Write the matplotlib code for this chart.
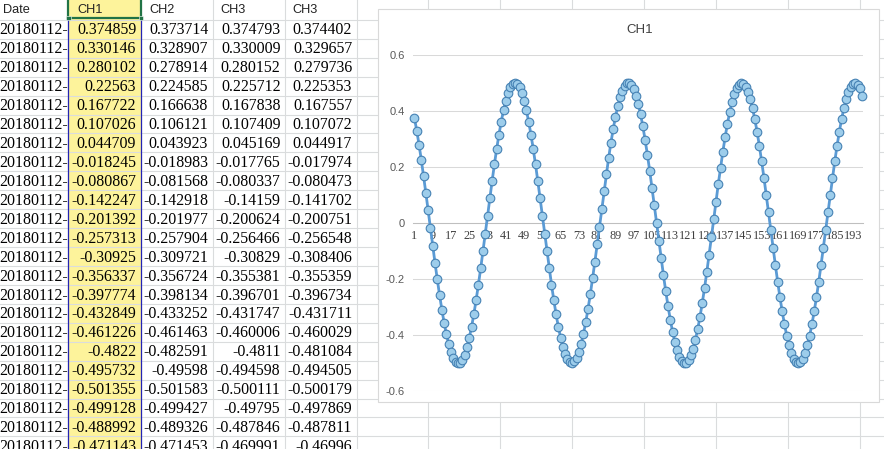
import matplotlib
matplotlib.use("Agg")
import matplotlib.pyplot as plt
from matplotlib.patches import Rectangle

W, H = 884, 449

# sheet contents
headers = ["Date", "CH1", "CH2", "CH3", "CH3"]
dates = ["20180112-"] * 23
ch1 = [0.374859, 0.330146, 0.280102, 0.22563, 0.167722, 0.107026, 0.044709,
       -0.018245, -0.080867, -0.142247, -0.201392, -0.257313, -0.30925,
       -0.356337, -0.397774, -0.432849, -0.461226, -0.4822, -0.495732,
       -0.501355, -0.499128, -0.488992, -0.471143]
ch2 = [0.373714, 0.328907, 0.278914, 0.224585, 0.166638, 0.106121, 0.043923,
       -0.018983, -0.081568, -0.142918, -0.201977, -0.257904, -0.309721,
       -0.356724, -0.398134, -0.433252, -0.461463, -0.482591, -0.49598,
       -0.501583, -0.499427, -0.489326, -0.471453]
ch3 = [0.374793, 0.330009, 0.280152, 0.225712, 0.167838, 0.107409, 0.045169,
       -0.017765, -0.080337, -0.14159, -0.200624, -0.256466, -0.30829,
       -0.355381, -0.396701, -0.431747, -0.460006, -0.4811, -0.494598,
       -0.500111, -0.49795, -0.487846, -0.469991]
ch3b = [0.374402, 0.329657, 0.279736, 0.225353, 0.167557, 0.107072, 0.044917,
        -0.017974, -0.080473, -0.141702, -0.200751, -0.256548, -0.308406,
        -0.355359, -0.396734, -0.431711, -0.460029, -0.481084, -0.494505,
        -0.500179, -0.497869, -0.487811, -0.46996]

# CH1 values past the visible rows
ch1_rest = [
    -0.443, -0.410, -0.371, -0.326, -0.275, -0.220, -0.162, -0.101, -0.038, 0.025,
    0.088, 0.150, 0.209, 0.265, 0.316, 0.362, 0.403, 0.437, 0.464, 0.484,
    0.496, 0.500, 0.496, 0.484, 0.464, 0.437, 0.403, 0.362, 0.316, 0.265,
    0.209, 0.150, 0.088, 0.025, -0.038, -0.101, -0.162, -0.220, -0.275, -0.326,
    -0.371, -0.410, -0.443, -0.469, -0.487, -0.497, -0.500, -0.494, -0.481, -0.459,
    -0.431, -0.395, -0.354, -0.306, -0.254, -0.197, -0.138, -0.076, -0.013, 0.051,
    0.113, 0.174, 0.232, 0.286, 0.335, 0.379, 0.417, 0.449, 0.473, 0.490,
    0.499, 0.499, 0.492, 0.477, 0.454, 0.424, 0.388, 0.345, 0.296, 0.243,
    0.186, 0.125, 0.063, 0.000, -0.063, -0.125, -0.186, -0.243, -0.296, -0.345,
    -0.388, -0.424, -0.454, -0.477, -0.492, -0.499, -0.499, -0.490, -0.473, -0.449,
    -0.417, -0.379, -0.335, -0.286, -0.232, -0.174, -0.113, -0.051, 0.013, 0.076,
    0.138, 0.197, 0.254, 0.306, 0.354, 0.395, 0.431, 0.459, 0.481, 0.494,
    0.500, 0.497, 0.487, 0.469, 0.443, 0.410, 0.371, 0.326, 0.275, 0.220,
    0.162, 0.101, 0.038, -0.025, -0.088, -0.150, -0.209, -0.265, -0.316, -0.362,
    -0.403, -0.437, -0.464, -0.484, -0.496, -0.500, -0.496, -0.484, -0.464, -0.437,
    -0.403, -0.362, -0.316, -0.265, -0.209, -0.150, -0.088, -0.025, 0.038, 0.101,
    0.162, 0.220, 0.275, 0.326, 0.371, 0.410, 0.443, 0.469, 0.487, 0.497,
    0.500, 0.494, 0.481, 0.455,
]
series = ch1 + ch1_rest

chart_title = "CH1"
ytick_vals = [-0.6, -0.4, -0.2, 0, 0.2, 0.4, 0.6]
ytick_labels = ["-0.6", "-0.4", "-0.2", "0", "0.2", "0.4", "0.6"]

# sheet layout in pixels
col_edges = [68.3, 140.7, 212.7, 285.0, 356.7, 428.3, 500.3, 572.3,
             644.3, 716.3, 788.3, 860.3]
row_top = 19.9
row_h = 18.93
grid_c = "#DADCDD"

fig = plt.figure(figsize=(W / 100, H / 100), dpi=100)
bg = fig.add_axes([0, 0, 1, 1])
bg.set_xlim(0, W)
bg.set_ylim(H, 0)
bg.axis("off")

# selected column fill
bg.add_patch(Rectangle((col_edges[0], 0), col_edges[1] - col_edges[0], H,
                       facecolor="#FDF39B", edgecolor="none", zorder=0))

for xe in col_edges:
    bg.plot([xe, xe], [0, H], color=grid_c, lw=0.8, zorder=1)
for j in range(24):
    y = row_top + j * row_h
    bg.plot([0, W], [y, y], color=grid_c, lw=0.8, zorder=1)

# selection borders
for xe in col_edges[:2]:
    bg.plot([xe, xe], [row_top - 1, H], color="#2424B4", lw=0.9, zorder=2)
    bg.plot([xe, xe], [0, 18.3], color="#217346", lw=1.6, zorder=3)
    bg.add_patch(Rectangle((xe - 2.2, 15.5), 4.4, 4.4, facecolor="#217346",
                           edgecolor="white", lw=0.4, zorder=4))
bg.plot([col_edges[0], col_edges[1]], [18.3, 18.3], color="#217346", lw=1.6, zorder=3)

# header row
head_x = [3, 77.3, 149, 220, 292.7]
for hx, name in zip(head_x, headers):
    bg.text(hx, 12.8, name, family="Liberation Sans", fontsize=9.2, color="#222222",
            ha="left", va="baseline", zorder=5)

# data rows
serif = dict(family="Liberation Serif", fontsize=11.4, color="black", zorder=5)
for i in range(len(dates)):
    yb = 29.3 + i * row_h + 5.2
    bg.text(-0.8, yb, dates[i], ha="left", va="baseline", **serif)
    for c, col in enumerate([ch1, ch2, ch3, ch3b]):
        bg.text(col_edges[c + 1] - 4.5, yb, str(col[i]), ha="right", va="baseline", **serif)

# chart area
bg.add_patch(Rectangle((378, 8.5), 501, 393.2, facecolor="white",
                       edgecolor="#D9D9D9", lw=0.8, zorder=6))
bg.text(640, 30, chart_title, family="Liberation Sans", fontsize=9.5,
        color="#404040", ha="center", va="center", zorder=7)

ax = fig.add_axes([413.3 / W, 1 - 391 / H, 450 / W, (391 - 55) / H])
ax.patch.set_alpha(0)
xs = list(range(1, len(series) + 1))
ax.plot(xs, series, color="#5B9BD5", lw=2.0, marker="o", ms=6.2,
        mfc="#9DCDEB", mec="#4682B4", mew=0.8, clip_on=False, zorder=3)
ax.set_xlim(0.5, len(series) + 0.5)
ax.set_ylim(-0.6, 0.6)
ax.set_yticks(ytick_vals)
ax.set_yticklabels(ytick_labels, family="Liberation Sans", fontsize=8, color="#595959")
ax.grid(axis="y", color="#D9D9D9", lw=0.75)
ax.set_axisbelow(True)
for s in ["top", "right", "left"]:
    ax.spines[s].set_visible(False)
ax.spines["bottom"].set_position(("data", 0))
ax.spines["bottom"].set_color("#BFBFBF")
ax.spines["bottom"].set_linewidth(0.75)
xticks = xs[::8]
ax.set_xticks(xticks)
ax.set_xticklabels([str(t) for t in xticks], family="Liberation Serif",
                   fontsize=8.8, color="#404040")
ax.tick_params(axis="x", length=0, pad=5)
ax.tick_params(axis="y", length=0, pad=6)

fig.savefig("out.png", dpi=100)
